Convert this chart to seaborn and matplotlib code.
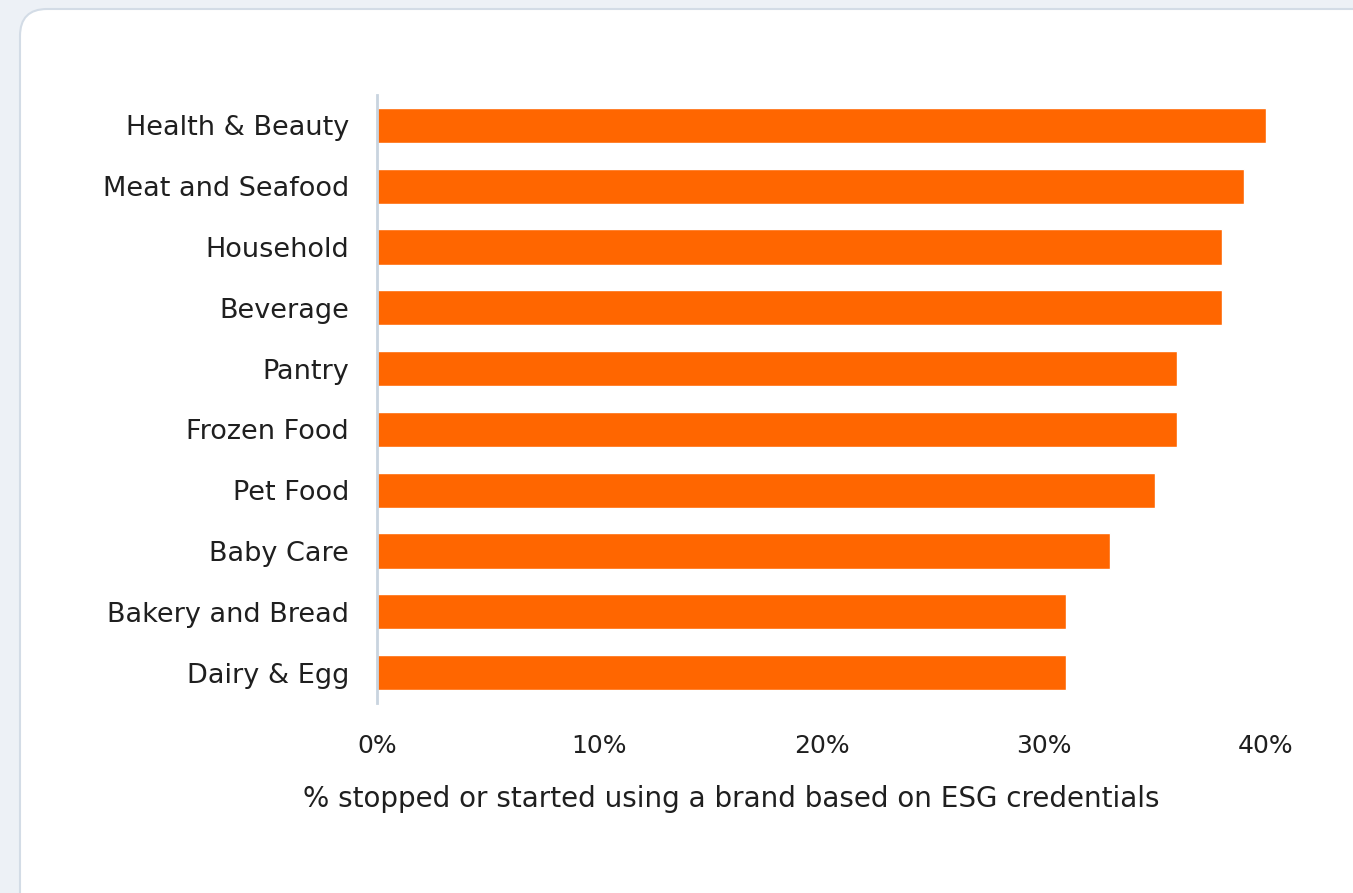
import matplotlib
matplotlib.use("Agg")
import matplotlib.pyplot as plt
from matplotlib.patches import FancyBboxPatch
import seaborn as sns
import pandas as pd

categories = ["Health & Beauty", "Meat and Seafood", "Household", "Beverage",
              "Pantry", "Frozen Food", "Pet Food", "Baby Care",
              "Bakery and Bread", "Dairy & Egg"]
values = [40, 39, 38, 38, 36, 36, 35, 33, 31, 31]
x_ticks = [0, 10, 20, 30, 40]
x_tick_labels = ["0%", "10%", "20%", "30%", "40%"]
x_label = "% stopped or started using a brand based on ESG credentials"

df = pd.DataFrame({"category": categories, "value": values})

sns.set_theme(style="white")
plt.rcParams["font.family"] = ["DejaVu Sans"]

W, H = 1353, 893
fig = plt.figure(figsize=(W / 100, H / 100), dpi=100)
fig.patch.set_facecolor("#EDF1F6")

# white rounded card behind the chart
card = FancyBboxPatch((20 / W, -0.1), 1.2, (H - 9) / H + 0.1,
                      boxstyle="round,pad=0,rounding_size=0.02",
                      transform=fig.transFigure, facecolor="white",
                      edgecolor="#D3DCE6", linewidth=1.5, zorder=-10,
                      mutation_aspect=W / H)
fig.patches.append(card)

ax = fig.add_axes([377 / W, 1 - 703 / H, (1266 - 377) / W, (703 - 95) / H])
ax.set_facecolor("none")
ax.set_zorder(5)

sns.barplot(data=df, x="value", y="category", color="#FF6600",
            saturation=1, width=0.58, ax=ax)

ax.set_xlim(0, 40)
ax.set_xticks(x_ticks)
ax.set_xticklabels(x_tick_labels)
ax.set_ylabel("")
ax.set_xlabel(x_label, fontsize=20, color="#1F1F1F", labelpad=18)
ax.xaxis.set_label_coords(0.398, -0.135)

ax.tick_params(axis="y", length=0, pad=20, labelsize=19.5, labelcolor="#1F1F1F")
ax.tick_params(axis="x", length=0, pad=22, labelsize=18, labelcolor="#1F1F1F")

for side in ["top", "right", "bottom"]:
    ax.spines[side].set_visible(False)
ax.spines["left"].set_color("#C9D4DF")
ax.spines["left"].set_linewidth(2)

fig.savefig("out.png", dpi=100, facecolor=fig.get_facecolor())
